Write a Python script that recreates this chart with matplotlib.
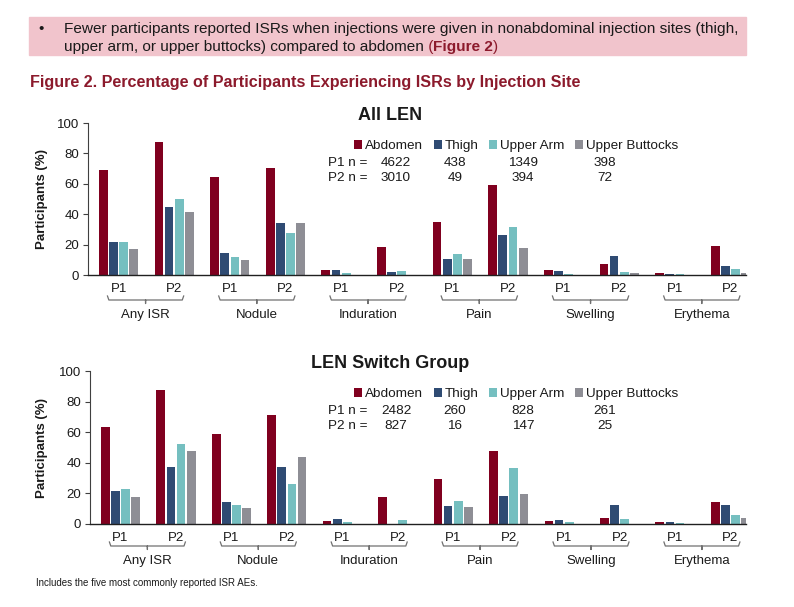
import numpy as np
import matplotlib.pyplot as plt
from matplotlib.patches import Rectangle
from matplotlib.text import Annotation

plt.rcParams['font.family'] = ['Liberation Sans', 'DejaVu Sans']

# ---- data ----
sites = ['Abdomen', 'Thigh', 'Upper Arm', 'Upper Buttocks']
site_colors = ['#80001f', '#2f4b73', '#75bfc0', '#8e8e95']
categories = ['Any ISR', 'Nodule', 'Induration', 'Pain', 'Swelling', 'Erythema']
periods = ['P1', 'P2']

# percentages, order: Any ISR P1, Any ISR P2, Nodule P1, Nodule P2, ...
all_abdomen = [69, 87.3, 64.2, 70.5, 3.1, 18.7, 34.7, 59.3, 3.5, 7.3, 1.5, 19.3]
all_thigh = [21.5, 44.8, 14.4, 34.5, 3.0, 1.8, 10.3, 26.4, 2.4, 12.3, 0.9, 5.9]
all_arm = [21.6, 49.7, 11.7, 27.9, 1.3, 2.4, 13.8, 31.6, 0.7, 2.0, 0.7, 3.7]
all_butt = [16.9, 41.5, 9.6, 34.5, 0, 0, 10.5, 18.0, 0, 1.3, 0, 1.3]
all_n_p1 = ['4622', '438', '1349', '398']
all_n_p2 = ['3010', '49', '394', '72']

sw_abdomen = [63.3, 87.3, 59.0, 71.4, 1.7, 17.5, 29.3, 48.0, 2.0, 4.1, 1.3, 14.6]
sw_thigh = [21.8, 37.3, 14.2, 37.3, 3.1, 0, 12.0, 18.6, 2.8, 12.2, 1.5, 12.4]
sw_arm = [23.1, 52.2, 12.2, 26.4, 1.5, 2.6, 14.8, 36.5, 1.1, 3.3, 0.9, 6.1]
sw_butt = [17.9, 47.8, 10.3, 43.9, 0, 0, 11.4, 19.9, 0, 0, 0, 3.9]
sw_n_p1 = ['2482', '260', '828', '261']
sw_n_p2 = ['827', '16', '147', '25']

W, H = 794, 607
RED = '#8c1a2c'
TXT = '#1a1a1a'


def fx(x):
    return x / W


def fy(y):
    return 1 - y / H


fig = plt.figure(figsize=(W / 100, H / 100), dpi=100)

# ---- header ----
fig.add_artist(Rectangle((fx(29), fy(55)), (746 - 29) / W, (55 - 17) / H,
                         transform=fig.transFigure, color='#f1c4cc', zorder=0))
fig.text(fx(38), fy(33.3), '\u2022', fontsize=11.1, color=TXT, va='baseline')
fig.text(fx(64), fy(33.3),
         'Fewer participants reported ISRs when injections were given in '
         'nonabdominal injection sites (thigh,',
         fontsize=11.1, color=TXT, va='baseline')
t = fig.text(fx(64), fy(50.7),
             'upper arm, or upper buttocks) compared to abdomen',
             fontsize=11.1, color=TXT, va='baseline')
for piece, weight in [(' (', 'normal'), ('Figure 2', 'bold'), (')', 'normal')]:
    t = fig.add_artist(Annotation(piece, xy=(1, 0), xycoords=t, va='bottom',
                                  ha='left', fontsize=11.1, color=RED,
                                  fontweight=weight))

fig.text(fx(30), fy(87.3),
         'Figure 2. Percentage of Participants Experiencing ISRs by Injection Site',
         fontsize=11.6, fontweight='bold', color=RED, va='baseline')

fig.text(fx(36), fy(586), 'Includes the five most commonly reported ISR AEs.',
         fontsize=7, color=TXT, va='baseline')

x = np.arange(len(categories) * len(periods))
step = 0.183
bw = 0.157


def draw_panel(top, bottom, left, title, series, n_p1, n_p2, base):
    ax = fig.add_axes([fx(left), fy(bottom), fx(746) - fx(left),
                       (bottom - top) / H])
    ah = bottom - top  # axes height in pixels

    def below(px):
        return -px / ah

    bars = []
    for i, (vals, col) in enumerate(zip(series, site_colors)):
        b = ax.bar(x + (i - 1.5) * step, vals, bw, color=col,
                   edgecolor='none', label=sites[i], zorder=2)
        bars.append(b)
    ax.set_xlim(-0.55, 11.28)
    ax.set_ylim(0, 100)
    ax.set_yticks(np.arange(0, 101, 20))
    ax.set_xticks(x)
    ax.set_xticklabels(periods * len(categories))
    ax.tick_params(axis='x', length=0, pad=6, labelsize=9.5, labelcolor=TXT)
    ax.tick_params(axis='y', length=3.5, width=0.8, pad=3, labelsize=9.5,
                   labelcolor=TXT, color='#404040')
    for s in ['top', 'right']:
        ax.spines[s].set_visible(False)
    ax.spines['left'].set_color('#404040')
    ax.spines['left'].set_linewidth(0.8)
    ax.spines['bottom'].set_color('#202020')
    ax.spines['bottom'].set_linewidth(1.0)

    # brackets and category labels below the P1 / P2 labels
    tr = ax.get_xaxis_transform()
    for k, cat in enumerate(categories):
        x0 = 2 * k - 0.2
        x1 = 2 * k + 1 + 0.17
        xm = (x0 + x1) / 2
        bx = [x0, x0 + 0.025, xm, xm, xm, x1 - 0.025, x1]
        by = [below(base - 4), below(base), below(base), below(base + 3.5),
              below(base), below(base), below(base - 4)]
        ax.plot(bx, by, transform=tr, color='#707070', lw=0.9,
                clip_on=False, solid_joinstyle='round')
        ax.text(xm, below(base + 18), cat, transform=tr, ha='center',
                va='baseline', fontsize=9.5, color=TXT)

    fig.text(fx(390), fy(top - 3), title, ha='center', va='baseline',
             fontsize=13, fontweight='bold', color=TXT)
    fig.text(fx(42), fy((top + bottom) / 2), 'Participants (%)', rotation=90,
             ha='center', va='center', fontsize=9.5, fontweight='bold',
             color=TXT)
    ax.legend(handles=bars, ncol=4, loc='center left', frameon=False,
              bbox_to_anchor=(fx(354), fy(top + 23)),
              bbox_transform=fig.transFigure, fontsize=9.7,
              handlelength=0.6, handleheight=0.6, handletextpad=0.25,
              columnspacing=0.75, borderpad=0, borderaxespad=0,
              labelcolor=TXT)
    fig.text(fx(328), fy(top + 43), 'P1 n =', va='baseline', fontsize=9.7,
             color=TXT)
    fig.text(fx(328), fy(top + 58), 'P2 n =', va='baseline', fontsize=9.7,
             color=TXT)
    n_x = [396, 455, 523, 605]
    for xx, a, b in zip(n_x, n_p1, n_p2):
        fig.text(fx(xx), fy(top + 43), a, ha='center', va='baseline',
                 fontsize=9.7, color=TXT)
        fig.text(fx(xx), fy(top + 58), b, ha='center', va='baseline',
                 fontsize=9.7, color=TXT)
    return ax


draw_panel(123, 275, 88, 'All LEN',
           [all_abdomen, all_thigh, all_arm, all_butt], all_n_p1, all_n_p2, 25)
draw_panel(371, 524, 90, 'LEN Switch Group',
           [sw_abdomen, sw_thigh, sw_arm, sw_butt], sw_n_p1, sw_n_p2, 22)

fig.savefig('out.png', dpi=100)
